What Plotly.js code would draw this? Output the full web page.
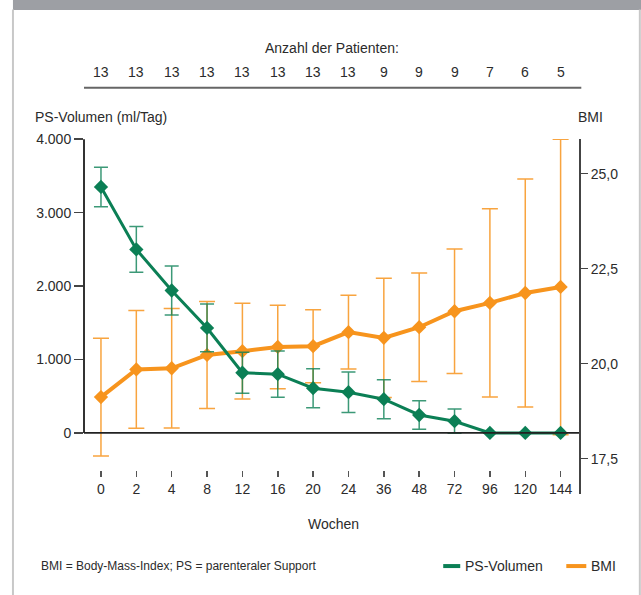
<!DOCTYPE html>
<html>
<head>
<meta charset="utf-8">
<script src="https://cdn.plot.ly/plotly-3.0.1.min.js"></script>
<style>
html,body{margin:0;padding:0;background:#fff;}
#chart{width:641px;height:595px;}
</style>
</head>
<body>
<div id="chart"></div>
<script>
// ---- data ----
const weeks = ["0","2","4","8","12","16","20","24","36","48","72","96","120","144"];
const patients = [13,13,13,13,13,13,13,13,9,9,9,7,6,5];
const psVolume = [3350, 2500, 1940, 1430, 820, 800, 610, 555, 460, 245, 160, 0, 0, 0];
const psError  = [270, 310, 335, 325, 280, 315, 265, 275, 265, 195, 165, 0, 0, 0];
const bmi      = [19.12, 19.85, 19.88, 20.23, 20.33, 20.44, 20.46, 20.83, 20.68, 20.96, 21.38, 21.60, 21.86, 22.02];
const bmiError = [1.55, 1.55, 1.57, 1.41, 1.26, 1.10, 0.96, 0.97, 1.57, 1.43, 1.64, 2.48, 3.00, 3.89];
const psTicks  = [0, 1000, 2000, 3000, 4000];
const bmiTicks = [17.5, 20, 22.5, 25];

const GREEN = '#0b7f55';
const ORANGE = '#f7941d';
const TXT = '#2b2b2b';
const FONT = 'Liberation Sans, Arial, sans-serif';

// plot-area geometry helpers (pixels -> paper)
const L = 84, R = 578.7, T = 139.3, B = 494;
const px = v => (v - L) / (R - L);
const py = v => (B - v) / (B - T);

const traces = [
  {
    x: weeks, y: bmi, name: 'BMI', type: 'scatter', mode: 'lines+markers',
    xaxis: 'x', yaxis: 'y',
    line: {color: ORANGE, width: 4},
    marker: {symbol: 'diamond', size: 11, color: ORANGE},
    error_y: {type: 'data', array: bmiError, visible: true, color: 'rgba(247,148,29,0.85)', thickness: 1.5, width: 8},
    cliponaxis: false
  },
  {
    x: weeks, y: psVolume, name: 'PS-Volumen', type: 'scatter', mode: 'lines+markers',
    xaxis: 'x', yaxis: 'y2',
    line: {color: GREEN, width: 3},
    marker: {symbol: 'diamond', size: 11, color: GREEN},
    error_y: {type: 'data', array: psError, visible: true, color: 'rgba(11,127,85,0.8)', thickness: 1.5, width: 7},
    cliponaxis: false
  }
];

const annotations = [
  {text: 'Anzahl der Patienten:', xref: 'paper', yref: 'paper', x: px(332), y: py(48), xanchor: 'center', yanchor: 'middle', showarrow: false, font: {size: 14, color: TXT, family: FONT}},
  {text: 'PS-Volumen (ml/Tag)', xref: 'paper', yref: 'paper', x: px(33), y: py(117), xanchor: 'left', yanchor: 'middle', showarrow: false, font: {size: 14, color: TXT, family: FONT}},
  {text: 'BMI', xref: 'paper', yref: 'paper', x: px(576), y: py(117), xanchor: 'left', yanchor: 'middle', showarrow: false, font: {size: 14, color: TXT, family: FONT}},
  {text: 'Wochen', xref: 'paper', yref: 'paper', x: px(333), y: py(524), xanchor: 'center', yanchor: 'middle', showarrow: false, font: {size: 14, color: TXT, family: FONT}},
  {text: 'BMI = Body-Mass-Index; PS = parenteraler Support', xref: 'paper', yref: 'paper', x: px(39), y: py(566), xanchor: 'left', yanchor: 'middle', showarrow: false, font: {size: 12, color: TXT, family: FONT}},
  {text: 'PS-Volumen', xref: 'paper', yref: 'paper', x: px(463), y: py(566), xanchor: 'left', yanchor: 'middle', showarrow: false, font: {size: 14, color: TXT, family: FONT}},
  {text: 'BMI', xref: 'paper', yref: 'paper', x: px(589), y: py(566), xanchor: 'left', yanchor: 'middle', showarrow: false, font: {size: 14, color: TXT, family: FONT}}
];
weeks.forEach((w, i) => {
  // numeric x on a category axis = category index
  annotations.push({text: String(patients[i]), xref: 'x', yref: 'paper', x: i, y: py(72), xanchor: 'center', yanchor: 'middle', showarrow: false, font: {size: 14, color: TXT, family: FONT}});
});

const shapes = [
  // top grey bar
  {type: 'rect', xref: 'paper', yref: 'paper', x0: px(13), x1: px(641), y0: py(0), y1: py(10.5), fillcolor: '#9d9fa4', line: {width: 0}},
  // frame borders
  {type: 'line', xref: 'paper', yref: 'paper', x0: px(13), x1: px(13), y0: py(10), y1: py(595), line: {color: '#c8c8c8', width: 2}},
  {type: 'line', xref: 'paper', yref: 'paper', x0: px(639.5), x1: px(639.5), y0: py(10), y1: py(595), line: {color: '#c8c8c8', width: 2}},
  // line under patient numbers
  {type: 'line', xref: 'paper', yref: 'paper', x0: px(84), x1: px(581), y0: py(88), y1: py(88), line: {color: '#666', width: 2}},
  // left axis line (0 - 4000)
  {type: 'line', xref: 'paper', yref: 'y2', x0: 0, x1: 0, y0: 0, y1: 4000, line: {color: '#333', width: 2}},
  // zero line
  {type: 'line', xref: 'paper', yref: 'y2', x0: 0, x1: 1, y0: 0, y1: 0, line: {color: '#222', width: 1.8}},
  // legend swatches
  {type: 'line', xref: 'paper', yref: 'paper', x0: px(443), x1: px(460), y0: py(566), y1: py(566), line: {color: GREEN, width: 4}},
  {type: 'line', xref: 'paper', yref: 'paper', x0: px(566), x1: px(586), y0: py(566), y1: py(566), line: {color: ORANGE, width: 4}}
];

const layout = {
  width: 641, height: 595,
  margin: {l: L, r: 641 - R, t: T, b: 595 - B, pad: 0},
  paper_bgcolor: '#fff', plot_bgcolor: 'rgba(0,0,0,0)',
  separators: ',.',
  showlegend: false,
  font: {family: FONT, size: 14, color: TXT},
  xaxis: {
    type: 'category', range: [-0.48, 13.52],
    anchor: 'free', position: py(470),
    showline: false, zeroline: false, showgrid: false,
    ticks: 'outside', ticklen: 6, tickwidth: 1.5, tickcolor: '#555',
    tickfont: {size: 14, color: TXT, family: FONT}
  },
  yaxis: {
    range: [16.57, 25.914], side: 'right', anchor: 'x',
    showline: true, linecolor: '#444', linewidth: 2,
    zeroline: false, showgrid: false,
    tickvals: bmiTicks, tickformat: '.1f',
    ticks: 'outside', ticklen: 7, tickwidth: 1.5, tickcolor: '#444',
    tickfont: {size: 14, color: TXT, family: FONT}
  },
  yaxis2: {
    range: [-831, 4003], side: 'left', overlaying: 'y', anchor: 'x',
    showline: false, zeroline: false, showgrid: false,
    tickvals: psTicks, tickformat: ',d',
    ticks: 'outside', ticklen: 9, tickwidth: 1.5, tickcolor: '#444',
    tickfont: {size: 14, color: TXT, family: FONT}
  },
  annotations: annotations,
  shapes: shapes
};

Plotly.newPlot('chart', traces, layout, {displayModeBar: false, staticPlot: true});
</script>
</body>
</html>
